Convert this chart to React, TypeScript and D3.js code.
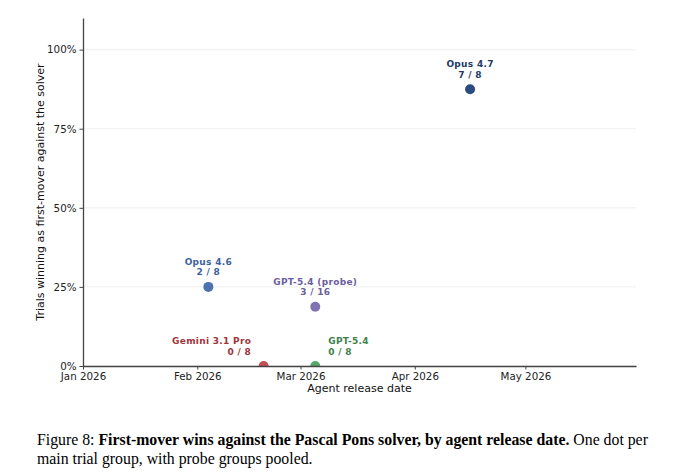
import { useEffect, useRef } from 'react'
import * as d3 from 'd3'

// agent groups, one dot each
const agents = ['Opus 4.6', 'Gemini 3.1 Pro', 'GPT-5.4 (probe)', 'GPT-5.4', 'Opus 4.7']
const releaseDates = ['2026-02-04', '2026-02-19', '2026-03-05', '2026-03-05', '2026-04-16']
const wins = [2, 0, 3, 0, 7]
const trials = [8, 8, 16, 8, 8]

const yTicks = [0, 0.25, 0.5, 0.75, 1]
const xTickLabels = ['Jan 2026', 'Feb 2026', 'Mar 2026', 'Apr 2026', 'May 2026']

// look per agent
const dotColors: Record<string, string> = {
  'Opus 4.6': '#4c72b0',
  'Gemini 3.1 Pro': '#c44e52',
  'GPT-5.4 (probe)': '#8172b2',
  'GPT-5.4': '#55a868',
  'Opus 4.7': '#2a4a80',
}
const textColors: Record<string, string> = {
  'Opus 4.6': '#3d5f9e',
  'Gemini 3.1 Pro': '#9e343a',
  'GPT-5.4 (probe)': '#6b5e9e',
  'GPT-5.4': '#3e7f4c',
  'Opus 4.7': '#223a66',
}
const labelPlacement: Record<string, 'above' | 'left' | 'right'> = {
  'Opus 4.6': 'above',
  'Gemini 3.1 Pro': 'left',
  'GPT-5.4 (probe)': 'above',
  'GPT-5.4': 'right',
  'Opus 4.7': 'above',
}

export default function App() {
  const ref = useRef<SVGSVGElement | null>(null)

  useEffect(() => {
    if (!ref.current) return
    const svg = d3.select(ref.current)
    svg.selectAll('*').remove()

    const width = 679
    const height = 472
    const margin = { top: 18, right: 43, bottom: 106, left: 83 }
    const font = 'DejaVu Sans, sans-serif'

    const parse = d3.utcParse('%Y-%m-%d')
    const x = d3
      .scaleUtc()
      .domain([parse('2026-01-01')!, parse('2026-05-31')!])
      .range([margin.left, width - margin.right])
    const y = d3.scaleLinear().domain([0, 1.1]).range([height - margin.bottom, margin.top])

    const data = agents.map((name, i) => ({
      name,
      date: parse(releaseDates[i])!,
      rate: wins[i] / trials[i],
      wins: wins[i],
      trials: trials[i],
    }))

    // dots at 0% get cut by the x axis
    svg
      .append('clipPath')
      .attr('id', 'plot-clip')
      .append('rect')
      .attr('x', margin.left)
      .attr('y', margin.top)
      .attr('width', width - margin.left - margin.right)
      .attr('height', y(0) - margin.top)

    // gridlines
    svg
      .append('g')
      .selectAll('line')
      .data(yTicks)
      .join('line')
      .attr('x1', margin.left)
      .attr('x2', width - margin.right)
      .attr('y1', d => y(d))
      .attr('y2', d => y(d))
      .attr('stroke', '#efefef')
      .attr('stroke-width', 1)

    // dots
    svg
      .append('g')
      .attr('clip-path', 'url(#plot-clip)')
      .selectAll('circle')
      .data(data)
      .join('circle')
      .attr('cx', d => x(d.date))
      .attr('cy', d => y(d.rate))
      .attr('r', 5)
      .attr('fill', d => dotColors[d.name])

    // axes
    const monthTicks = d3.utcMonth.range(parse('2026-01-01')!, parse('2026-05-02')!)
    const xAxis = svg
      .append('g')
      .attr('transform', `translate(0,${height - margin.bottom})`)
      .call(
        d3
          .axisBottom(x)
          .tickValues(monthTicks)
          .tickFormat((_, i) => xTickLabels[i])
          .tickSize(3.5)
          .tickSizeOuter(0)
      )
    const yAxis = svg
      .append('g')
      .attr('transform', `translate(${margin.left},0)`)
      .call(d3.axisLeft(y).tickValues(yTicks).tickFormat(d3.format('.0%')).tickSize(3.5).tickSizeOuter(0))

    ;[xAxis, yAxis].forEach(g => {
      g.select('.domain').attr('stroke', '#444').attr('stroke-width', 1.3)
      g.selectAll('.tick line').attr('stroke', '#444').attr('stroke-width', 1)
      g.selectAll('.tick text').attr('fill', '#222').style('font-size', '10.3px').style('font-family', font)
    })
    xAxis.selectAll('.tick text').attr('y', 6).attr('dy', '0.75em')

    // axis titles
    svg
      .append('text')
      .attr('x', (margin.left + width - margin.right) / 2)
      .attr('y', 392)
      .attr('text-anchor', 'middle')
      .attr('fill', '#111')
      .style('font-size', '11px')
      .style('font-family', font)
      .text('Agent release date')

    svg
      .append('text')
      .attr('transform', `translate(44,${(margin.top + height - margin.bottom) / 2}) rotate(-90)`)
      .attr('text-anchor', 'middle')
      .attr('fill', '#111')
      .style('font-size', '11px')
      .style('font-family', font)
      .text('Trials winning as first-mover against the solver')

    // labels
    data.forEach(d => {
      const cx = x(d.date)
      const cy = y(d.rate)
      const place = labelPlacement[d.name]
      let tx = cx
      let anchor = 'middle'
      const ty = cy - 22
      if (place === 'left') {
        tx = cx - 12.5
        anchor = 'end'
      } else if (place === 'right') {
        tx = cx + 13
        anchor = 'start'
      }
      const t = svg
        .append('text')
        .attr('text-anchor', anchor)
        .attr('fill', textColors[d.name])
        .style('font-size', '9px')
        .style('font-weight', 'bold')
        .style('letter-spacing', '0.3px')
        .style('font-family', font)
      t.append('tspan').attr('x', tx).attr('y', ty).text(d.name)
      t.append('tspan').attr('x', tx).attr('y', ty + 10.5).text(`${d.wins} / ${d.trials}`)
    })

    // caption
    const cap = svg
      .append('text')
      .attr('fill', '#000')
      .style('font-size', '15.8px')
      .style('font-family', 'Liberation Serif, Times New Roman, serif')
    const l1 = cap.append('tspan').attr('x', 37).attr('y', 445)
    l1.append('tspan').text('Figure 8: ')
    l1.append('tspan').style('font-weight', 'bold').text('First-mover wins against the Pascal Pons solver, by agent release date.')
    l1.append('tspan').text(' One dot per')
    cap.append('tspan').attr('x', 37).attr('y', 464).text('main trial group, with probe groups pooled.')

    svg.attr('viewBox', `0 0 ${width} ${height}`)
  }, [])

  return (
    <svg
      ref={ref}
      width={679}
      height={472}
      style={{ position: 'absolute', left: 0, top: 0, background: '#fff' }}
    ></svg>
  )
}
